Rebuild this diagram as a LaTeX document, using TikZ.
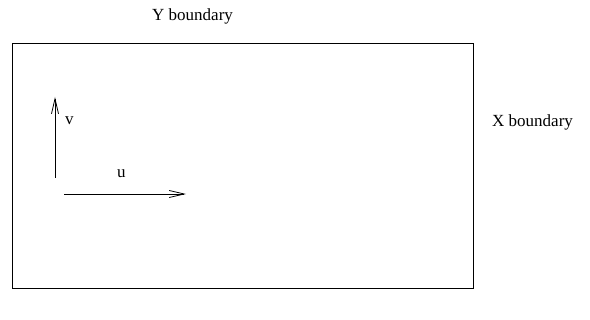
\documentclass[tikz,border=0pt]{standalone}
\usepackage{fontspec}
\setmainfont{Liberation Serif}
\usetikzlibrary{arrows.meta}
\begin{document}
\begin{tikzpicture}[x=1pt,y=-1pt,
  lbl/.style={inner sep=0pt, anchor=base west, font=\fontsize{17}{20}\selectfont},
  vec/.style={line width=0.8pt, -{Straight Barb[length=15pt,width=7pt,line width=0.8pt]}},
  frame/.style={draw, line width=0.9pt}]
\useasboundingbox (0,0) rectangle (590,320);
\node[frame, minimum width=461pt, minimum height=245pt, inner sep=0pt, anchor=north west] (box) at (12,43) {};
\node[lbl] (yb) at (152,21) {Y boundary};
\node[lbl] (xb) at (492,127) {X boundary};
\coordinate (v0) at (55,178);
\coordinate (v1) at (55,97);
\coordinate (u0) at (64,194);
\coordinate (u1) at (186,194);
\draw[vec] (v0) -- (v1);
\draw[vec] (u0) -- (u1);
\node[lbl] (vl) at (65,125) {v};
\node[lbl] (ul) at (117,178) {u};
\end{tikzpicture}
\end{document}
